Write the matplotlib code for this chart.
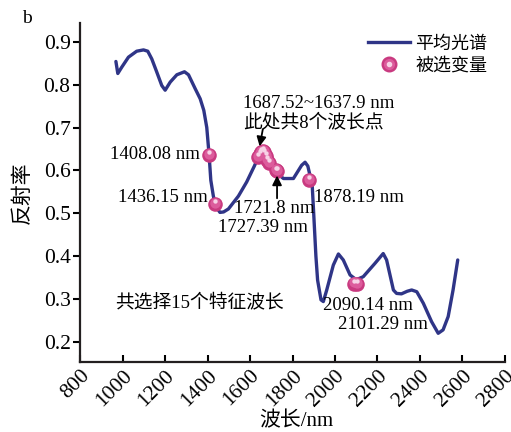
import numpy as np
import matplotlib
matplotlib.use("Agg")
import matplotlib.pyplot as plt
from matplotlib.lines import Line2D
from matplotlib.legend_handler import HandlerTuple
from matplotlib.transforms import offset_copy

plt.rcParams['font.family'] = ['Liberation Serif', 'Noto Sans CJK SC']
plt.rcParams['axes.unicode_minus'] = False

# 平均光谱 (波长 nm, 反射率)
wavelength = [968, 977, 996, 1027, 1066, 1098, 1118, 1137, 1160, 1184, 1200, 1224,
              1255, 1291, 1310, 1341, 1365, 1382, 1396, 1407, 1415, 1427, 1440, 1458,
              1475, 1498, 1545, 1584, 1620, 1647, 1662, 1678, 1702, 1726, 1757, 1804,
              1843, 1859, 1872, 1886, 1893, 1898, 1910, 1918, 1934, 1945, 1961, 1992,
              2016, 2039, 2071, 2100, 2133, 2188, 2227, 2243, 2275, 2290, 2313, 2340,
              2361, 2385, 2416, 2455, 2486, 2509, 2533, 2556, 2578]
reflectance = [0.854, 0.826, 0.841, 0.864, 0.878, 0.881, 0.878, 0.860, 0.830, 0.798,
               0.787, 0.806, 0.823, 0.830, 0.823, 0.791, 0.767, 0.740, 0.700, 0.636,
               0.577, 0.540, 0.515, 0.502, 0.503, 0.510, 0.540, 0.573, 0.610, 0.640,
               0.645, 0.623, 0.600, 0.594, 0.581, 0.581, 0.612, 0.619, 0.610, 0.580,
               0.561, 0.515, 0.400, 0.344, 0.298, 0.294, 0.321, 0.379, 0.405, 0.391,
               0.356, 0.345, 0.352, 0.383, 0.406, 0.391, 0.321, 0.313, 0.312, 0.318,
               0.321, 0.317, 0.290, 0.247, 0.220, 0.228, 0.259, 0.321, 0.391]

# 被选变量 (15个特征波长)
sel_wl = [1408.08, 1436.15,
          1637.9, 1645, 1652, 1659, 1666, 1673, 1680, 1687.52,
          1721.8, 1727.39, 1878.19, 2090.14, 2101.29]
sel_refl = [0.636, 0.522,
            0.632, 0.639, 0.643, 0.646, 0.642, 0.633, 0.625, 0.618,
            0.600, 0.598, 0.577, 0.336, 0.335]

x_ticks = [800, 1000, 1200, 1400, 1600, 1800, 2000, 2200, 2400, 2600, 2800]
y_ticks = [0.2, 0.3, 0.4, 0.5, 0.6, 0.7, 0.8, 0.9]

line_color = '#2f3587'
ball_color = '#c93a80'
ball_mid = '#dc5c9c'
ball_hi = '#f7d3e6'

fig = plt.figure(figsize=(5.11, 4.32), dpi=100)
ax = fig.add_axes([0.157, 0.162, 0.831, 0.785])

ax.plot(wavelength, reflectance, color=line_color, lw=2.4, solid_capstyle='round',
        solid_joinstyle='round', zorder=2)

# 球形标记：底色 + 亮面 + 高光
ax.scatter(sel_wl, sel_refl, s=110, color=ball_color, lw=0, zorder=3)
ax.scatter(sel_wl, sel_refl, s=55, color=ball_mid, lw=0, zorder=4,
           transform=offset_copy(ax.transData, fig=fig, x=0, y=0.8, units='points'))
ax.scatter(sel_wl, sel_refl, s=10, color=ball_hi, lw=0, zorder=5,
           transform=offset_copy(ax.transData, fig=fig, x=0, y=2.0, units='points'))

ax.set_xlim(800, 2800)
ax.set_ylim(0.153, 0.944)
ax.set_xticks(x_ticks)
ax.set_yticks(y_ticks)
ax.set_yticklabels([f'{v:.1f}' for v in y_ticks])
ax.set_xticklabels([str(v) for v in x_ticks], rotation=45, ha='right', va='top',
                   rotation_mode='anchor')
ax.tick_params(axis='y', direction='out', length=5, width=1.5, labelsize=15.5, pad=2)
ax.tick_params(axis='x', direction='in', length=5, width=1.5, labelsize=15.5, pad=3)
for side in ['top', 'right']:
    ax.spines[side].set_visible(False)
for side in ['left', 'bottom']:
    ax.spines[side].set_linewidth(1.6)
    ax.spines[side].set_color('#231f20')

fs = 13.5
ax.text(1365, 0.636, '1408.08 nm', fontsize=fs, ha='right', va='center')
ax.text(1402, 0.537, '1436.15 nm', fontsize=fs, ha='right', va='center')
ax.text(1567, 0.756, '1687.52~1637.9 nm', fontsize=fs, ha='left', va='center')
ax.text(1567, 0.713, '此处共8个波长点', fontsize=fs, ha='left', va='center')
ax.text(1526, 0.512, '1721.8 nm', fontsize=fs, ha='left', va='center')
ax.text(1450, 0.467, '1727.39 nm', fontsize=fs, ha='left', va='center')
ax.text(1900, 0.537, '1878.19 nm', fontsize=fs, ha='left', va='center')
ax.text(1945, 0.284, '2090.14 nm', fontsize=fs, ha='left', va='center')
ax.text(2015, 0.240, '2101.29 nm', fontsize=fs, ha='left', va='center')
ax.text(965, 0.292, '共选择15个特征波长', fontsize=fs, ha='left', va='center')

arrow = dict(arrowstyle='-|>', color='black', lw=1.3, mutation_scale=14,
             shrinkA=0, shrinkB=0)
ax.annotate('', xy=(1645, 0.656), xytext=(1660, 0.696), arrowprops=arrow)
ax.annotate('', xy=(1727, 0.588), xytext=(1727, 0.535), arrowprops=arrow)

line_handle = Line2D([], [], color=line_color, lw=2.4)
ball_base = Line2D([], [], ls='none', marker='o', ms=10.5, mfc=ball_color, mec=ball_color)
ball_midl = Line2D([], [], ls='none', marker='o', ms=7, mfc=ball_mid, mec=ball_mid)
ball_top = Line2D([], [], ls='none', marker='o', ms=3, mfc=ball_hi, mec=ball_hi)
fig.legend([line_handle, (ball_base, ball_midl, ball_top)], ['平均光谱', '被选变量'],
           handler_map={tuple: HandlerTuple(ndivide=1, pad=0)},
           loc='upper right', bbox_to_anchor=(0.985, 0.955), frameon=False,
           fontsize=13, handlelength=2.3, handletextpad=0.3, labelspacing=0.25)

fig.text(0.053, 0.958, 'b', fontsize=14, ha='center', va='center')
fig.text(0.045, 0.555, '反射率', fontsize=15, rotation=90, ha='center', va='center')
fig.text(0.58, 0.025, '波长/nm', fontsize=15, ha='center', va='center')

fig.savefig('out.png', dpi=100)
